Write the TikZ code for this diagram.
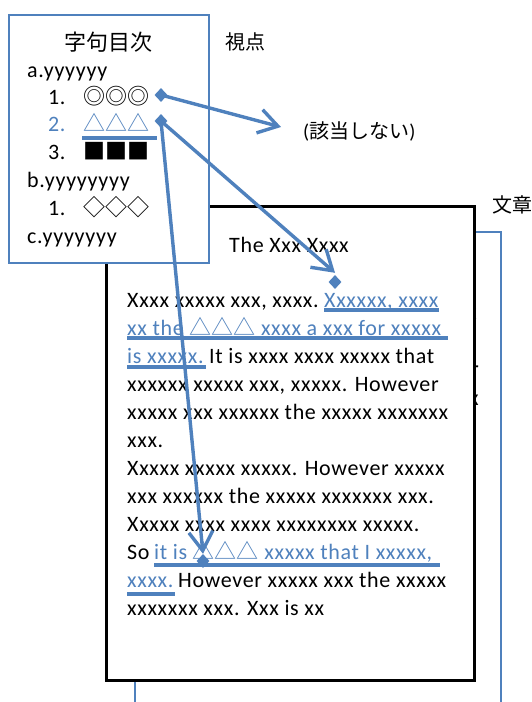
\documentclass[tikz,border=0pt]{standalone}
\usepackage{fontspec}
\setmainfont{Carlito}[LetterSpace=3]
\newfontfamily\jp{Noto Sans CJK JP}
\usetikzlibrary{arrows.meta,shapes.geometric}
\definecolor{ob}{HTML}{4F81BD}
\pgfdeclarelayer{front}
\pgfsetlayers{main,front}
\begin{document}
\begin{tikzpicture}[x=1pt,y=-1pt,
  txt/.style={anchor=base west,inner sep=0pt,font=\fontsize{22}{26}\selectfont},
  btxt/.style={txt,text=ob},
  jtxt/.style={inner sep=0pt,font=\fontsize{22}{26}\selectfont\jp},
  lbl/.style={anchor=west,inner sep=0pt,font=\fontsize{20}{24}\selectfont\jp},
  conn/.style={draw=ob,line width=3.4pt,-{Straight Barb[length=19pt,width=24pt]}},
  dmark/.style={diamond,fill=ob,draw=none,minimum width=13pt,minimum height=14pt,inner sep=0pt},
  uline/.style={draw=ob,line width=4.5pt},
]
\useasboundingbox (0,0) rectangle (532,702);
% back page
\draw[ob,line width=2.8pt,fill=white] (135,232) rectangle (501,760);
% front page
\node[draw=black,line width=3pt,fill=white,minimum width=368pt,minimum height=474pt,anchor=north west,inner sep=0pt] (page) at (105,205) {};
% fragments of back page text
\begin{scope}
\clip (474.6,300) rectangle (484,420);
\node[txt] (f1) at (467,319) {x};
\node[txt] (f2) at (471,376) {r};
\node[txt] (f3) at (469,405) {x};
\end{scope}
% labels
\node[lbl] (viewpoint) at (225,42) {視点};
\node[lbl] (bunsho) at (492,205) {文章};
\node[lbl] (na) at (303,131) {{\fontspec{Carlito}(}該当しない{\fontspec{Carlito})}};
% TOC box
\node[draw=ob,line width=2.2pt,fill=white,minimum width=200pt,minimum height=248pt,anchor=north west,inner sep=0pt] (toc) at (8,14) {};
\node[jtxt] (title) at (108,42) {字句目次};
\node[txt] (ia) at (27,77) {a.yyyyyy};
\node[txt] (n1) at (48,104) {1.};
\node[jtxt,anchor=base west] (s1) at (83,104) {◎◎◎};
\node[btxt] (n2) at (48,131) {2.};
\node[jtxt,anchor=base west,text=ob] (s2) at (83,131) {△△△};
\node[txt] (n3) at (48,159) {3.};
\node[jtxt,anchor=base west] (s3) at (83,159) {■■■};
\node[txt] (ib) at (27,187) {b.yyyyyyyy};
\node[txt] (n4) at (48,215) {1.};
\node[jtxt,anchor=base west] (s4) at (83,215) {◇◇◇};
\node[txt] (ic) at (27,243) {c.yyyyyyy};
\draw[uline] (82,138) -- (157,138);
% document text
\node[txt] (dt) at (229,252) {The Xxx Xxxx};
\node[txt] (l1a) at (127,307) {Xxxx xxxxx xxx, xxxx.};
\node[btxt] (l1b) at (324,307) {Xxxxxx, xxxx};
\node[btxt] (l2) at (127,335) {xx the {\jp △△△} xxxx a xxx for xxxxx};
\node[btxt] (l3a) at (127,363) {is xxxxx.};
\node[txt] (l3b) at (209,363) {It is xxxx xxxx xxxxx that};
\node[txt] (l4) at (127,391) {xxxxxx xxxxx xxx, xxxxx. However};
\node[txt] (l5) at (127,419) {xxxxx xxx xxxxxx the xxxxx xxxxxxx};
\node[txt] (l6) at (127,447) {xxx.};
\node[txt] (l7) at (127,475) {Xxxxx xxxxx xxxxx. However xxxxx};
\node[txt] (l8) at (127,503) {xxx xxxxxx the xxxxx xxxxxxx xxx.};
\node[txt] (l9) at (127,531) {Xxxxx xxxx xxxx xxxxxxxx xxxxx.};
\node[txt] (l10a) at (127,559) {So};
\node[btxt] (l10b) at (154,559) {it is {\jp △△△} xxxxx that I xxxxx,};
\node[btxt] (l11a) at (127,587) {xxxx.};
\node[txt] (l11b) at (178,587) {However xxxxx xxx the xxxxx};
\node[txt] (l12) at (127,615) {xxxxxxx xxx. Xxx is xx};
% underlines
\draw[uline] (324,310) -- (439,310);
\draw[uline] (127,338) -- (448,338);
\draw[uline] (127,367) -- (206,367);
\draw[uline] (154,565) -- (440,565);
\draw[uline] (127,594) -- (175,594);
% markers and connectors
\begin{pgfonlayer}{front}
\node[dmark] (d1) at (161,95) {};
\node[dmark] (d2) at (161,121) {};
\node[dmark] (d3) at (335,282) {};
\node[dmark] (d4) at (203,561) {};
\end{pgfonlayer}
\coordinate (e1) at (281,127);
\draw[conn] (d1.center) -- (e1);
\draw[conn] (d2.center) -- ([yshift=2pt]d3.north);
\draw[conn] (d2.center) -- (d4.north);
\end{tikzpicture}
\end{document}
